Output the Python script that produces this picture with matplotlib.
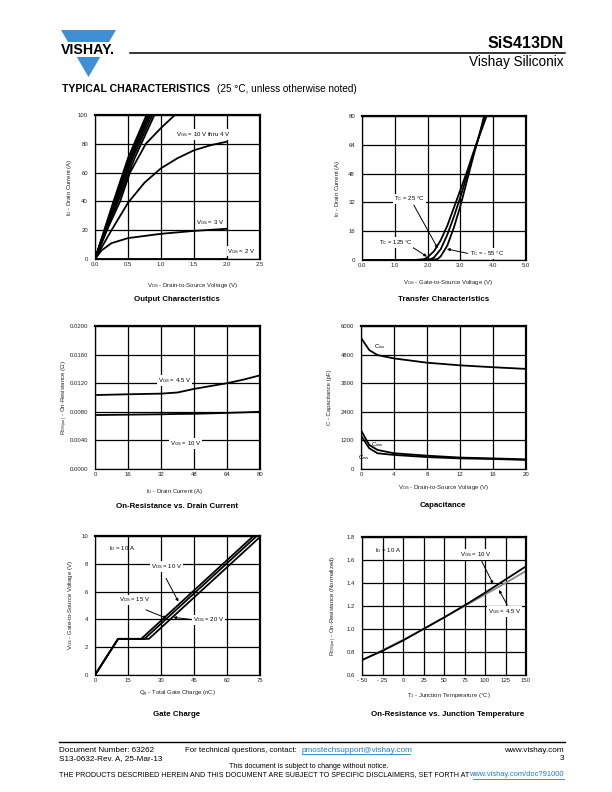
import numpy as np
import matplotlib
matplotlib.use('Agg')
import matplotlib.pyplot as plt
from matplotlib.patches import Polygon
from matplotlib.lines import Line2D

plt.rcParams['font.family'] = ['Liberation Sans', 'DejaVu Sans']
plt.rcParams['mathtext.fontset'] = 'custom'
plt.rcParams['mathtext.rm'] = 'Liberation Sans'
plt.rcParams['mathtext.it'] = 'Liberation Sans:italic'
plt.rcParams['mathtext.bf'] = 'Liberation Sans:bold'

# ---- Output characteristics (ID vs VDS) ----
out_id_steep = [0, 40, 70, 100]
out_vds_steep = [
    [0, 0.28, 0.50, 0.78],
    [0, 0.29, 0.51, 0.80],
    [0, 0.30, 0.53, 0.82],
    [0, 0.31, 0.55, 0.84],
    [0, 0.33, 0.57, 0.87],
    [0, 0.35, 0.60, 0.90],
]
out_vds_4 = [0, 0.2, 0.38, 0.53, 0.77, 1.0, 1.21]
out_id_4 = [0, 22, 40, 60, 80, 91, 100]
out_vds_35 = [0, 0.25, 0.5, 0.75, 1.0, 1.25, 1.5, 1.75, 2.0]
out_id_35 = [0, 20, 39, 53, 63, 70, 75.5, 79, 81.5]
out_vds_3 = [0, 0.1, 0.25, 0.5, 0.75, 1.0, 1.5, 2.0]
out_id_3 = [0, 6, 11, 14.5, 16, 17.5, 19.5, 21]
out_vds_2 = [0, 2.0]
out_id_2 = [0, 0]

# ---- Transfer characteristics ----
tr_vgs_125 = [0, 1.6, 1.9, 2.0, 2.2, 2.4, 2.6, 2.8, 3.0, 3.2, 3.4, 3.6, 3.8]
tr_id_125 = [0, 0, 0.5, 1.5, 5, 11, 19, 29, 39, 49, 60, 70, 80]
tr_vgs_25 = [0, 1.8, 2.1, 2.2, 2.4, 2.6, 2.8, 3.0, 3.2, 3.4, 3.6, 3.75]
tr_id_25 = [0, 0, 0.5, 1.5, 6, 14, 24, 35, 47, 59, 71, 80]
tr_vgs_m55 = [0, 2.0, 2.3, 2.4, 2.6, 2.8, 3.0, 3.2, 3.4, 3.6, 3.72]
tr_id_m55 = [0, 0, 0.5, 2, 8, 18, 30, 44, 58, 71, 80]

# ---- On-resistance vs drain current ----
rd_id = [1, 16, 32, 40, 48, 56, 64, 72, 80]
rd_r45 = [0.01035, 0.01045, 0.01054, 0.0107, 0.0112, 0.0116, 0.0120, 0.0125, 0.0131]
rd_r10 = [0.00755, 0.0076, 0.00765, 0.0077, 0.00772, 0.00778, 0.00785, 0.00792, 0.0080]

# ---- Capacitance ----
cap_vds = [0.1, 1, 2, 4, 8, 12, 16, 20]
cap_ciss = [5450, 4990, 4780, 4640, 4460, 4350, 4270, 4200]
cap_coss = [1560, 1010, 800, 660, 560, 480, 445, 405]
cap_crss = [1350, 870, 660, 590, 500, 445, 420, 380]

# ---- Gate charge ----
gc_qg_10 = [0, 10.5, 21, 72]
gc_qg_15 = [0, 10.5, 22.5, 73.5]
gc_qg_20 = [0, 10.5, 24.5, 75.5]
gc_vgs = [0, 2.6, 2.6, 10]

# ---- On-resistance vs junction temperature ----
tj = [-50, -25, 0, 25, 50, 75, 100, 125, 150]
tj_r10 = [0.73, 0.81, 0.90, 1.0, 1.10, 1.205, 1.315, 1.43, 1.545]
tj_r45 = [0.73, 0.815, 0.905, 1.0, 1.10, 1.20, 1.30, 1.40, 1.505]

W, H = 612.0, 792.0
fig = plt.figure(figsize=(6.12, 7.92), dpi=100)


def fx(x):
    return x / W


def fy(y):
    return 1 - y / H


def make_ax(x0, x1, y0, y1):
    return fig.add_axes([fx(x0), fy(y1), (x1 - x0) / W, (y1 - y0) / H])


def setup(ax, xlim, ylim, xt, yt, xtl, ytl):
    ax.set_xlim(xlim)
    ax.set_ylim(ylim)
    ax.set_xticks(xt)
    ax.set_yticks(yt)
    ax.set_xticklabels(xtl)
    ax.set_yticklabels(ytl)
    ax.tick_params(length=0, labelsize=4.3, colors='#222222', pad=2.5)
    ax.tick_params(axis='y', pad=5)
    ax.grid(True, color='black', lw=0.9)
    ax.set_axisbelow(True)
    for s in ['left', 'bottom']:
        ax.spines[s].set_linewidth(0.9)
    for s in ['top', 'right']:
        ax.spines[s].set_linewidth(1.6)


def labels(ax, xl, xl_x, xl_y, yl, yl_x, title, t_x, t_y):
    fig.text(fx(xl_x), fy(xl_y), xl, fontsize=4.3, ha='center', va='center', color='#222222')
    b = ax.get_position()
    fig.text(fx(yl_x), (b.y0 + b.y1) / 2, yl, fontsize=4.3, ha='center', va='center',
             rotation=90, color='#222222')
    fig.text(fx(t_x), fy(t_y), title, fontsize=5.7, ha='center', va='center', fontweight='bold')


lw = 1.3
box = dict(facecolor='white', edgecolor='none', pad=0.6)
arr = dict(arrowstyle='-|>', color='black', lw=0.7, mutation_scale=4, shrinkA=0, shrinkB=0)

# Output characteristics
ax1 = make_ax(95, 260, 115, 259)
for v in out_vds_steep:
    ax1.plot(v, out_id_steep, color='black', lw=lw)
ax1.plot(out_vds_4, out_id_4, color='black', lw=lw)
ax1.plot(out_vds_35, out_id_35, color='black', lw=lw)
ax1.plot(out_vds_3, out_id_3, color='black', lw=lw)
ax1.plot(out_vds_2, out_id_2, color='black', lw=lw)
setup(ax1, (0, 2.5), (0, 100), [0, 0.5, 1.0, 1.5, 2.0, 2.5], [0, 20, 40, 60, 80, 100],
      ['0.0', '0.5', '1.0', '1.5', '2.0', '2.5'], ['0', '20', '40', '60', '80', '100'])
ax1.text(1.63, 86.5, r'V$_{\rm GS}$ = 10 V thru 4 V', fontsize=4.3, ha='center', va='center', bbox=box)
ax1.text(1.75, 25.5, r'V$_{\rm GS}$ = 3 V', fontsize=4.3, ha='center', va='center', bbox=box)
ax1.text(2.22, 5.5, r'V$_{\rm GS}$ = 2 V', fontsize=4.3, ha='center', va='center', bbox=box)
labels(ax1, r'V$_{\rm DS}$ - Drain-to-Source Voltage (V)', 193, 285,
       r'I$_{\rm D}$ - Drain Current (A)', 69, 'Output Characteristics', 177, 299)

# Transfer characteristics
ax2 = make_ax(362, 526, 116, 260)
ax2.plot(tr_vgs_125, tr_id_125, color='black', lw=lw)
ax2.plot(tr_vgs_25, tr_id_25, color='black', lw=lw)
ax2.plot(tr_vgs_m55, tr_id_m55, color='black', lw=lw)
setup(ax2, (0, 5), (0, 80), [0, 1, 2, 3, 4, 5], [0, 16, 32, 48, 64, 80],
      ['0.0', '1.0', '2.0', '3.0', '4.0', '5.0'], ['0', '16', '32', '48', '64', '80'])
ax2.annotate('', xy=(2.31, 6.5), xytext=(1.58, 30.5), arrowprops=arr)
ax2.text(1.45, 34, r'T$_{\rm C}$ = 25 °C', fontsize=4.3, ha='center', va='center', bbox=box)
ax2.annotate('', xy=(1.98, 1.9), xytext=(1.5, 7.5), arrowprops=arr)
ax2.text(1.02, 9.6, r'T$_{\rm C}$ = 125 °C', fontsize=4.3, ha='center', va='center', bbox=box)
ax2.annotate('', xy=(2.59, 6.1), xytext=(3.22, 3.7), arrowprops=arr)
ax2.text(3.8, 3.7, r'T$_{\rm C}$ = - 55 °C', fontsize=4.3, ha='center', va='center', bbox=box)
labels(ax2, r'V$_{\rm GS}$ - Gate-to-Source Voltage (V)', 448, 283,
       r'I$_{\rm D}$ - Drain Current (A)', 337, 'Transfer Characteristics', 443.5, 299)

# On-resistance vs drain current
ax3 = make_ax(95, 260, 326, 469)
ax3.plot(rd_id, rd_r45, color='black', lw=lw)
ax3.plot(rd_id, rd_r10, color='black', lw=lw)
setup(ax3, (0, 80), (0, 0.02), [0, 16, 32, 48, 64, 80],
      [0, 0.004, 0.008, 0.012, 0.016, 0.02],
      ['0', '16', '32', '48', '64', '80'],
      ['0.0000', '0.0040', '0.0080', '0.0120', '0.0160', '0.0200'])
ax3.text(38.5, 0.0124, r'V$_{\rm GS}$ = 4.5 V', fontsize=4.3, ha='center', va='center', bbox=box)
ax3.text(44, 0.0036, r'V$_{\rm GS}$ = 10 V', fontsize=4.3, ha='center', va='center', bbox=box)
labels(ax3, r'I$_{\rm D}$ - Drain Current (A)', 175, 491,
       r'R$_{\rm DS(on)}$ - On-Resistance (Ω)', 65, 'On-Resistance vs. Drain Current', 177, 507)

# Capacitance
ax4 = make_ax(361, 526, 326, 469)
ax4.plot(cap_vds, cap_ciss, color='black', lw=lw)
ax4.plot(cap_vds, cap_coss, color='black', lw=lw)
ax4.plot(cap_vds, cap_crss, color='black', lw=lw)
setup(ax4, (0, 20), (0, 6000), [0, 4, 8, 12, 16, 20], [0, 1200, 2400, 3600, 4800, 6000],
      ['0', '4', '8', '12', '16', '20'], ['0', '1200', '2400', '3600', '4800', '6000'])
ax4.text(2.3, 5130, r'C$_{\rm iss}$', fontsize=4.3, ha='center', va='center')
ax4.text(2.0, 1010, r'C$_{\rm oss}$', fontsize=4.3, ha='center', va='center')
ax4.text(0.35, 470, r'C$_{\rm rss}$', fontsize=4.3, ha='center', va='center')
labels(ax4, r'V$_{\rm DS}$ - Drain-to-Source Voltage (V)', 444, 488,
       'C - Capacitance (pF)', 329, 'Capacitance', 443, 506)

# Gate charge
ax5 = make_ax(95, 260, 536, 675)
ax5.plot(gc_qg_10, gc_vgs, color='black', lw=lw)
ax5.plot(gc_qg_15, gc_vgs, color='black', lw=lw)
ax5.plot(gc_qg_20, gc_vgs, color='black', lw=lw)
setup(ax5, (0, 75), (0, 10), [0, 15, 30, 45, 60, 75], [0, 2, 4, 6, 8, 10],
      ['0', '15', '30', '45', '60', '75'], ['0', '2', '4', '6', '8', '10'])
ax5.text(12.5, 9.1, r'I$_{\rm D}$ = 10 A', fontsize=4.3, ha='center', va='center')
ax5.annotate('', xy=(37.9, 5.28), xytext=(32.3, 6.95), arrowprops=arr)
ax5.text(32.5, 7.8, r'V$_{\rm DS}$ = 10 V', fontsize=4.3, ha='center', va='center', bbox=box)
ax5.annotate('', xy=(32.6, 4.08), xytext=(23.2, 4.68), arrowprops=arr)
ax5.text(18, 5.4, r'V$_{\rm DS}$ = 15 V', fontsize=4.3, ha='center', va='center', bbox=box)
ax5.annotate('', xy=(35.6, 4.15), xytext=(45.3, 3.96), arrowprops=arr)
ax5.text(51.5, 3.96, r'V$_{\rm DS}$ = 20 V', fontsize=4.3, ha='center', va='center', bbox=box)
labels(ax5, r'Q$_{\rm g}$ - Total Gate Charge (nC)', 177, 694,
       r'V$_{\rm GS}$ - Gate-to-Source Voltage (V)', 70.5, 'Gate Charge', 177, 714)

# On-resistance vs junction temperature
ax6 = make_ax(362, 526, 537, 675)
ax6.plot(tj, tj_r45, color='#888888', lw=lw)
ax6.plot(tj, tj_r10, color='black', lw=lw)
setup(ax6, (-50, 150), (0.6, 1.8), [-50, -25, 0, 25, 50, 75, 100, 125, 150],
      [0.6, 0.8, 1.0, 1.2, 1.4, 1.6, 1.8],
      ['- 50', '- 25', '0', '25', '50', '75', '100', '125', '150'],
      ['0.6', '0.8', '1.0', '1.2', '1.4', '1.6', '1.8'])
ax6.text(-18.5, 1.68, r'I$_{\rm D}$ = 10 A', fontsize=4.3, ha='center', va='center')
ax6.annotate('', xy=(110, 1.39), xytext=(96, 1.59), arrowprops=arr)
ax6.text(88.5, 1.65, r'V$_{\rm GS}$ = 10 V', fontsize=4.3, ha='center', va='center', bbox=box)
ax6.annotate('', xy=(117, 1.34), xytext=(127, 1.21), arrowprops=arr)
ax6.text(124, 1.15, r'V$_{\rm GS}$ = 4.5 V', fontsize=4.3, ha='center', va='center', bbox=box)
labels(ax6, r'T$_{\rm J}$ - Junction Temperature (°C)', 449, 696,
       r'R$_{\rm DS(on)}$ - On-Resistance (Normalized)', 334,
       'On-Resistance vs. Junction Temperature', 448, 714)

# ---- header ----
blue = '#3f8fd2'
top_pts = [(fx(61), fy(30)), (fx(116), fy(30)), (fx(109), fy(42)), (fx(68), fy(42))]
bot_pts = [(fx(76.8), fy(57)), (fx(100.2), fy(57)), (fx(88.5), fy(77))]
fig.add_artist(Polygon(top_pts, closed=True, facecolor=blue, edgecolor='none', transform=fig.transFigure))
fig.add_artist(Polygon(bot_pts, closed=True, facecolor=blue, edgecolor='none', transform=fig.transFigure))
fig.text(fx(87.5), fy(49.5), 'VISHAY.', fontsize=10.2, fontweight='bold', ha='center', va='center')
fig.add_artist(Line2D([fx(130), fx(565)], [fy(53), fy(53)], color='black', lw=1.1, transform=fig.transFigure))
fig.text(fx(564), fy(44), 'SiS413DN', fontsize=11.5, fontweight='bold', ha='right', va='center')
fig.text(fx(564), fy(62), 'Vishay Siliconix', fontsize=9.8, ha='right', va='center')
fig.text(fx(62), fy(89.5), 'TYPICAL CHARACTERISTICS', fontsize=7.6, fontweight='bold', ha='left', va='center')
fig.text(fx(217), fy(89.5), '(25 °C, unless otherwise noted)', fontsize=7.2, ha='left', va='center')

# ---- footer ----
fig.add_artist(Line2D([fx(59), fx(565)], [fy(742), fy(742)], color='black', lw=1.0, transform=fig.transFigure))
fs = 5.9
fig.text(fx(59), fy(750), 'Document Number: 63262', fontsize=fs, ha='left', va='center')
fig.text(fx(59), fy(759), 'S13-0632-Rev. A, 25-Mar-13', fontsize=fs, ha='left', va='center')
fig.text(fx(185), fy(750), 'For technical questions, contact:', fontsize=5.6, ha='left', va='center')
fig.text(fx(302), fy(750), 'pmostechsupport@vishay.com', fontsize=fs, ha='left', va='center',
         color='#1f7fc6')
fig.add_artist(Line2D([fx(302), fx(410)], [fy(754), fy(754)], color='#1f7fc6', lw=0.6, transform=fig.transFigure))
fig.text(fx(564), fy(750), 'www.vishay.com', fontsize=fs, ha='right', va='center')
fig.text(fx(564), fy(759), '3', fontsize=fs, ha='right', va='center')
fig.text(fx(309), fy(767), 'This document is subject to change without notice.', fontsize=5.1, ha='center', va='center')
fig.text(fx(59), fy(775), 'THE PRODUCTS DESCRIBED HEREIN AND THIS DOCUMENT ARE SUBJECT TO SPECIFIC DISCLAIMERS, SET FORTH AT',
         fontsize=5.1, ha='left', va='center')
fig.text(fx(564), fy(775), 'www.vishay.com/doc?91000', fontsize=5.4, ha='right', va='center', color='#1f7fc6')
fig.add_artist(Line2D([fx(473), fx(564)], [fy(779), fy(779)], color='#1f7fc6', lw=0.6, transform=fig.transFigure))

fig.savefig('out.png', dpi=100)
